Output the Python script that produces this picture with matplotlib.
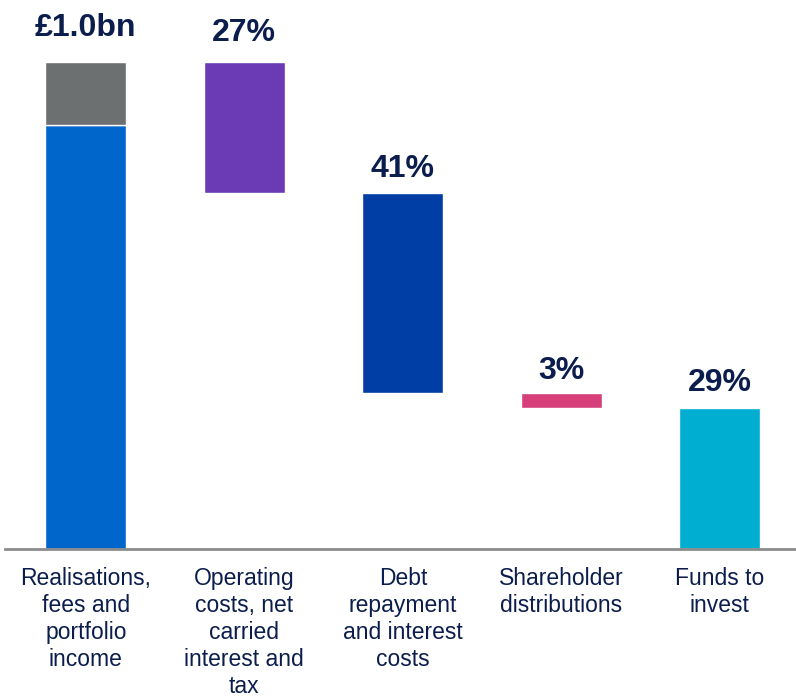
import numpy as np
import matplotlib
matplotlib.use('Agg')
import matplotlib.pyplot as plt

# данные (доли от общего потока, %)
categories = ['Realisations,\nfees and\nportfolio\nincome',
              'Operating\ncosts, net\ncarried\ninterest and\ntax',
              'Debt\nrepayment\nand interest\ncosts',
              'Shareholder\ndistributions',
              'Funds to\ninvest']
inflow_main = 87
inflow_other = 13
outflows = [27, 41, 3, 29]
labels = ['£1.0bn', '27%', '41%', '3%', '29%']

colors = ['#6a3bb4', '#003da5', '#d63f7a', '#00aed1']
text_col = '#0b1d4d'

fig = plt.figure(figsize=(7.96, 6.98), dpi=100)
ax = fig.add_axes([5 / 796, 149 / 698, 791 / 796, 539 / 698])

total = inflow_main + inflow_other
x = np.arange(len(categories))
w = 0.51

# первый столбец: основной поток + прочее
ax.bar(x[0], inflow_main, width=w, color='#0066cc', edgecolor='white', linewidth=1)
ax.bar(x[0], inflow_other, bottom=inflow_main, width=w, color='#6d7070',
       edgecolor='white', linewidth=1)

# водопад
top = total
tops = [total]
for i, v in enumerate(outflows):
    bottom = top - v
    ax.bar(x[i + 1], v, bottom=bottom, width=w, color=colors[i],
           edgecolor='white', linewidth=1)
    tops.append(top)
    top = bottom

pads = [14, 10, 7, 5, 7]
for i, lab in enumerate(labels):
    ax.annotate(lab, (x[i], tops[i]), xytext=(0, pads[i]), textcoords='offset points',
                ha='center', va='bottom', fontsize=23, fontweight='bold',
                color=text_col, family=['Liberation Sans', 'DejaVu Sans'])

ax.set_xlim(-0.51, 4.48)
ax.set_ylim(0, total * 539 / 487)
ax.set_xticks(x)
ax.set_xticklabels(categories, fontsize=16.5, color=text_col,
                   family=['Liberation Sans Narrow', 'Liberation Sans'],
                   fontstretch='condensed', linespacing=1.22)
ax.tick_params(axis='x', length=0, pad=13)
ax.set_yticks([])
for s in ['top', 'right', 'left']:
    ax.spines[s].set_visible(False)
ax.spines['bottom'].set_color('#8c8c8c')
ax.spines['bottom'].set_linewidth(2)

fig.savefig('out.png', dpi=100)
